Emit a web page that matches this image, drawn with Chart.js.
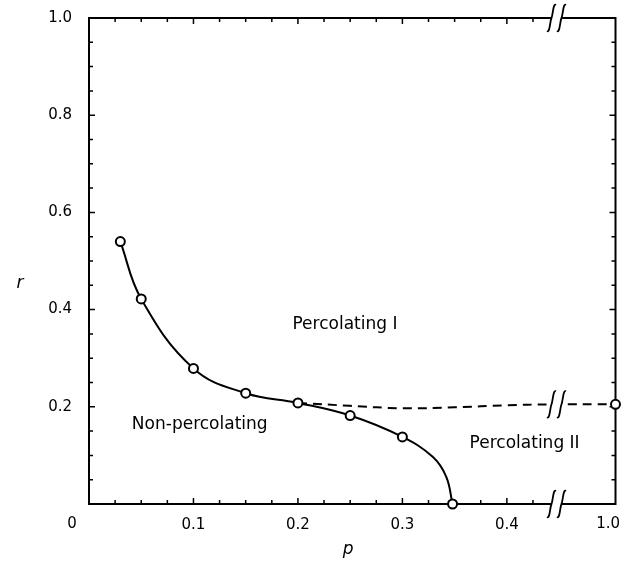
<!DOCTYPE html>
<html>
<head>
<meta charset="utf-8">
<script src="https://cdn.jsdelivr.net/npm/chart.js@4.4.1/dist/chart.umd.min.js"></script>
<style>
  html, body { margin: 0; padding: 0; background: #fff; }
</style>
</head>
<body>
<canvas id="phaseChart" width="622" height="564"></canvas>
<script>
// measured points (open circles)
const pointP = [0.03, 0.05, 0.10, 0.15, 0.20, 0.25, 0.30, 0.348, 1.0];
const pointR = [0.54, 0.422, 0.279, 0.228, 0.208, 0.182, 0.138, 0.0, 0.205];

// solid boundary
const solidP = [0.03, 0.05, 0.10, 0.15, 0.20, 0.25, 0.30, 0.329, 0.342, 0.348];
const solidR = [0.54, 0.422, 0.279, 0.228, 0.208, 0.182, 0.138, 0.097, 0.056, 0.0];

// dashed boundary between Percolating I and II
const dashP = [0.20, 0.25, 0.30, 0.35, 0.40, 0.44, 1.0];
const dashR = [0.208, 0.202, 0.197, 0.199, 0.203, 0.205, 0.205];

const xTicks = [0.1, 0.2, 0.3, 0.4, 1.0];
const yTicks = [0.2, 0.4, 0.6, 0.8, 1.0];

const regionText = ['Percolating I', 'Non-percolating', 'Percolating II'];
const regionP = [0.245, 0.106, 0.417];
const regionR = [0.370, 0.163, 0.125];

// broken p axis: everything past the break is squeezed into the last bit
const BREAK_AT = 0.4475;
const X_MAX = 0.504;
function axisX(p) {
    if (p <= BREAK_AT) return p;
    return BREAK_AT + (p - BREAK_AT) * (X_MAX - BREAK_AT) / (1 - BREAK_AT);
}

const FONT = 'DejaVu Sans';

function integral(ctx, cx, cy) {
    ctx.beginPath();
    ctx.moveTo(cx - 4.5, cy + 13);
    ctx.bezierCurveTo(cx - 1.5, cy + 15, cx - 1.5, cy + 3, cx, cy);
    ctx.bezierCurveTo(cx + 1.5, cy - 3, cx + 1.5, cy - 15, cx + 4.5, cy - 13);
    ctx.stroke();
}

const framePlugin = {
    id: 'frame',
    beforeDatasetsDraw(chart) {
        const { ctx, chartArea: a, scales: { x, y } } = chart;
        ctx.save();
        ctx.strokeStyle = '#000';
        ctx.lineWidth = 2;
        ctx.strokeRect(a.left, a.top, a.right - a.left, a.bottom - a.top);

        // inward ticks
        ctx.lineWidth = 1.5;
        ctx.beginPath();
        for (let i = 1; i <= 17; i++) {
            const px = x.getPixelForValue(i * 0.025);
            const len = i % 4 === 0 ? 6 : 4;
            ctx.moveTo(px, a.bottom); ctx.lineTo(px, a.bottom - len);
            ctx.moveTo(px, a.top); ctx.lineTo(px, a.top + len);
        }
        for (let i = 1; i <= 19; i++) {
            const py = y.getPixelForValue(i * 0.05);
            const len = i % 4 === 0 ? 6 : 4;
            ctx.moveTo(a.left, py); ctx.lineTo(a.left + len, py);
            ctx.moveTo(a.right, py); ctx.lineTo(a.right - len, py);
        }
        ctx.stroke();
        ctx.restore();
    },
    afterDatasetsDraw(chart) {
        const { ctx, chartArea: a, scales: { x, y } } = chart;
        ctx.save();
        const bx = x.getPixelForValue(BREAK_AT);
        const rows = [a.top, a.bottom, y.getPixelForValue(dashR[dashR.length - 1])];
        rows.forEach(cy => {
            ctx.fillStyle = '#fff';
            ctx.fillRect(bx - 5, cy - 3, 10, 6);
            ctx.strokeStyle = '#000';
            ctx.lineWidth = 1.8;
            integral(ctx, bx - 5, cy);
            integral(ctx, bx + 5, cy);
        });

        ctx.fillStyle = '#000';
        ctx.font = '17px "' + FONT + '"';
        ctx.textAlign = 'center';
        ctx.textBaseline = 'middle';
        regionText.forEach((t, i) => {
            ctx.fillText(t, x.getPixelForValue(regionP[i]), y.getPixelForValue(regionR[i]));
        });
        ctx.restore();
    },
    afterDraw(chart) {
        const { ctx, chartArea: a } = chart;
        ctx.save();
        ctx.fillStyle = '#000';
        ctx.textAlign = 'center';
        ctx.textBaseline = 'middle';
        ctx.font = 'italic 17px "' + FONT + '"';
        ctx.fillText('r', 20, (a.top + a.bottom) / 2 + 23);
        ctx.fillText('p', (a.left + a.right) / 2 - 4, a.bottom + 46);
        ctx.font = '15px "' + FONT + '"';
        ctx.fillText('0', a.left - 17, a.bottom + 20);
        // last p label sits at the canvas edge, keep it inside
        ctx.textAlign = 'right';
        ctx.fillText(xTicks[xTicks.length - 1].toFixed(1), chart.width - 2, a.bottom + 20);
        ctx.restore();
    }
};

new Chart(document.getElementById('phaseChart'), {
    type: 'scatter',
    data: {
        datasets: [
            {
                label: 'points',
                data: pointP.map((p, i) => ({ x: axisX(p), y: pointR[i] })),
                showLine: false,
                pointRadius: 4.5,
                pointBackgroundColor: '#fff',
                pointBorderColor: '#000',
                pointBorderWidth: 2,
                clip: false,
                order: 0
            },
            {
                label: 'solid',
                data: solidP.map((p, i) => ({ x: axisX(p), y: solidR[i] })),
                showLine: true,
                borderColor: '#000',
                borderWidth: 2,
                pointRadius: 0,
                tension: 0.4,
                order: 1
            },
            {
                label: 'dashed',
                data: dashP.map((p, i) => ({ x: axisX(p), y: dashR[i] })),
                showLine: true,
                borderColor: '#000',
                borderWidth: 2,
                borderDash: [9, 6],
                pointRadius: 0,
                tension: 0.4,
                order: 2
            }
        ]
    },
    options: {
        responsive: false,
        animation: false,
        layout: { padding: { top: 18, right: 6, left: 0, bottom: 0 } },
        plugins: {
            legend: { display: false },
            tooltip: { enabled: false }
        },
        scales: {
            x: {
                type: 'linear',
                min: 0,
                max: X_MAX,
                afterBuildTicks: s => { s.ticks = xTicks.map(p => ({ value: axisX(p) })); },
                afterFit: s => {
                    s.height = 60;
                    s.paddingLeft = 0;
                    s.paddingRight = 0;
                },
                grid: { display: false, drawTicks: false },
                border: { display: false },
                ticks: {
                    color: '#000',
                    font: { family: FONT, size: 15 },
                    padding: 12,
                    maxRotation: 0,
                    autoSkip: false,
                    callback: (v, i) => (i === xTicks.length - 1 ? '' : xTicks[i].toFixed(1))
                }
            },
            y: {
                type: 'linear',
                min: 0,
                max: 1,
                afterBuildTicks: s => { s.ticks = yTicks.map(v => ({ value: v })); },
                afterFit: s => {
                    s.width = 89;
                    s.paddingTop = 0;
                    s.paddingBottom = 0;
                },
                grid: { display: false, drawTicks: false },
                border: { display: false },
                ticks: {
                    color: '#000',
                    font: { family: FONT, size: 15 },
                    padding: 17,
                    autoSkip: false,
                    callback: v => v.toFixed(1)
                }
            }
        }
    },
    plugins: [framePlugin]
});
</script>
</body>
</html>
